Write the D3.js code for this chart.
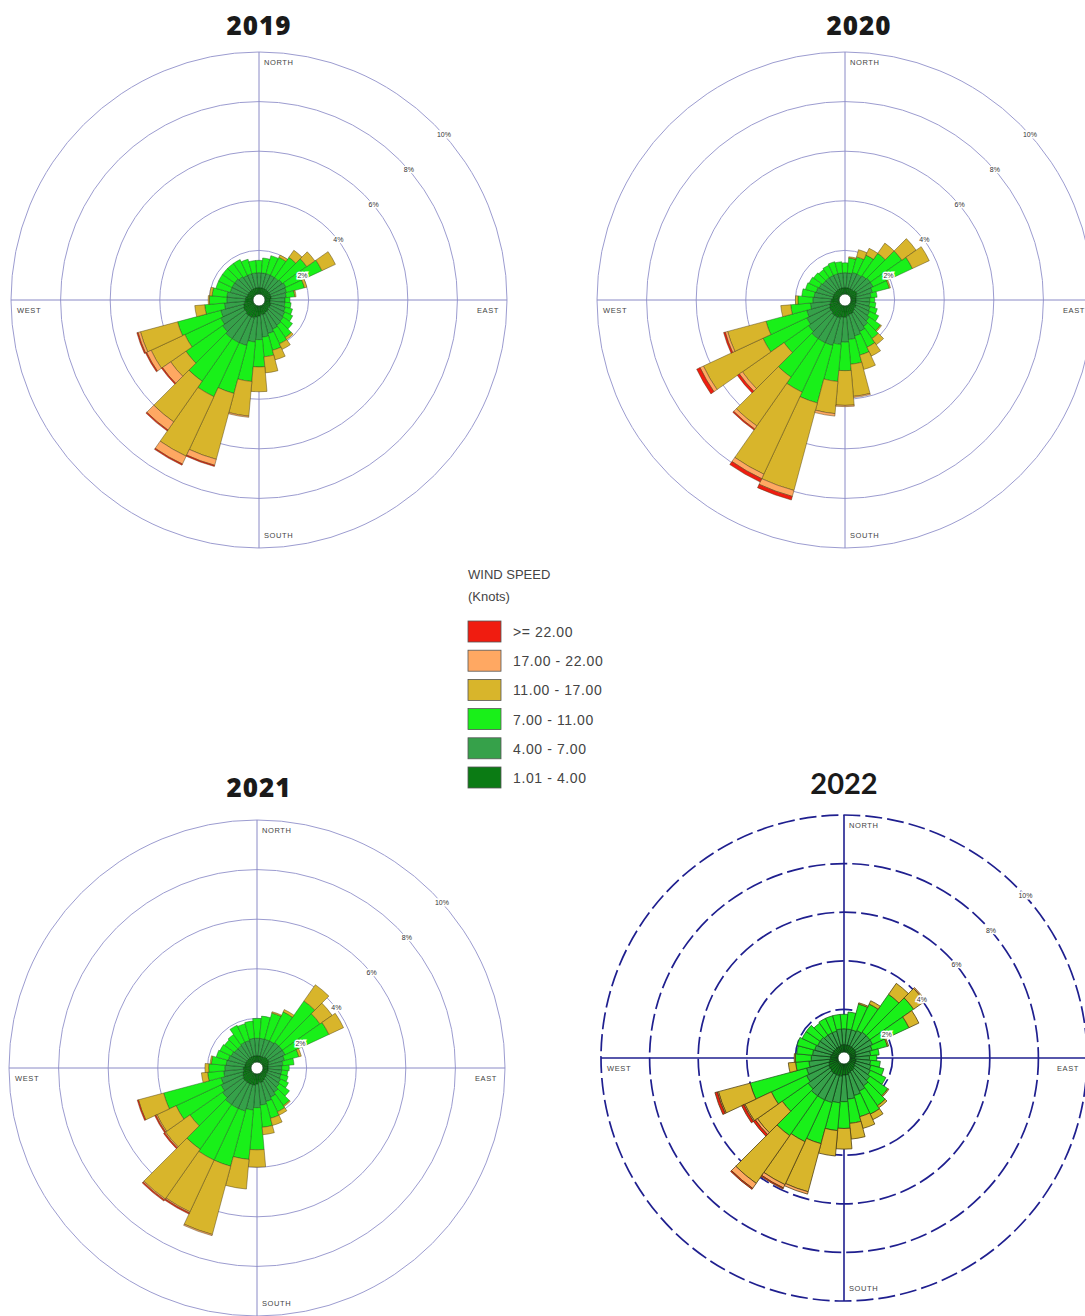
<!DOCTYPE html>
<html>
<head>
<meta charset="utf-8">
<script src="https://cdn.jsdelivr.net/npm/d3@7"></script>
<style>
  body { margin: 0; background: #fff; }
  svg { display: block; }
</style>
</head>
<body>
<svg id="chart" width="1085" height="1316"></svg>
<script>
// Wind direction sectors (degrees from north, clockwise), 10° bins
const directions = [0,10,20,30,40,50,60,70,80,90,100,110,120,130,140,150,160,170,
                    180,190,200,210,220,230,240,250,260,270,280,290,300,310,320,330,340,350];

// Speed classes, innermost first
const speedClasses = ["1.01 - 4.00","4.00 - 7.00","7.00 - 11.00","11.00 - 17.00","17.00 - 22.00",">= 22.00"];
const classColors  = ["#0b7b14","#36a14a","#19f019","#d8b52b","#ffa862","#f01c10"];

const ringTicks  = [2,4,6,8,10];
const ringLabels = ["2%","4%","6%","8%","10%"];
const years = ["2019","2020","2021","2022"];

// Frequency (% of hours) per direction, per speed class
const y2019_c1 = [.5,.5,.5,.5,.5,.5,.5,.5,.5,.45,.45,.5,.5,.5,.55,.55,.6,.6,.65,.7,.75,.75,.75,.7,.7,.65,.6,.55,.55,.5,.5,.5,.5,.5,.5,.5];
const y2019_c2 = [.6,.6,.6,.6,.6,.65,.7,.65,.6,.6,.6,.6,.65,.7,.7,.75,.8,.9,.95,1.0,1.15,1.15,1.15,1.1,1.0,.95,.8,.75,.75,.7,.7,.7,.65,.6,.6,.6];
const y2019_c3 = [.5,.6,.75,.8,1.0,1.2,1.6,.75,.35,.2,.25,.3,.35,.45,.6,.65,.7,.8,1.1,1.6,2.0,2.4,2.1,1.8,1.6,1.8,.8,.7,.6,.6,.6,.6,.65,.7,.6,.5];
const y2019_c4 = [0,0,0,.1,.35,.4,.6,.1,.05,0,0,0,0,0,.1,.25,.4,.65,1.0,1.4,2.75,2.65,2.0,.75,1.5,1.55,.4,.05,.1,0,0,0,0,0,0,0];
const y2019_c5 = [0,0,0,0,0,0,0,0,0,0,0,0,0,0,0,0,0,0,0,.05,.25,.35,.4,.4,.2,.1,0,0,0,0,0,0,0,0,0,0];
const y2019_c6 = [0,0,0,0,0,0,0,0,0,0,0,0,0,0,0,0,0,0,0,0,.05,.05,.05,.05,.05,.05,0,0,0,0,0,0,0,0,0,0];

const y2020_c1 = [.5,.5,.5,.5,.5,.55,.55,.5,.45,.45,.45,.45,.5,.5,.55,.6,.6,.65,.7,.7,.75,.75,.75,.7,.7,.65,.6,.55,.5,.5,.5,.5,.5,.5,.5,.5];
const y2020_c2 = [.6,.6,.65,.65,.7,.7,.7,.65,.6,.55,.55,.6,.6,.7,.75,.8,.9,.95,1.0,1.1,1.15,1.15,1.15,1.1,1.0,.95,.8,.75,.75,.7,.65,.6,.6,.6,.6,.6];
const y2020_c3 = [.4,.6,.65,.85,1.1,1.55,1.75,.7,.25,.2,.25,.3,.4,.55,.6,.7,.8,1.0,1.15,1.5,2.4,2.2,1.9,1.2,1.95,1.7,.8,.6,.5,.45,.45,.45,.4,.45,.5,.45];
const y2020_c4 = [0,.05,.3,.3,.5,.7,.75,.05,0,0,0,0,0,.05,.3,.4,.6,1.3,1.4,1.3,3.65,3.65,2.4,2.05,2.65,1.6,.4,.1,0,0,0,0,0,0,0,0];
const y2020_c5 = [0,0,0,0,0,0,0,0,0,0,0,0,0,0,0,0,0,.05,.05,.1,.25,.2,.15,.15,.15,.1,0,0,0,0,0,0,0,0,0,0];
const y2020_c6 = [0,0,0,0,0,0,0,0,0,0,0,0,0,0,0,0,0,0,0,0,.15,.15,.05,.1,.15,.07,0,0,0,0,0,0,0,0,0,0];

const y2021_c1 = [.5,.5,.5,.5,.55,.55,.55,.5,.45,.45,.45,.45,.45,.5,.5,.55,.6,.6,.65,.7,.7,.7,.7,.7,.65,.6,.55,.55,.5,.5,.5,.5,.5,.5,.5,.5];
const y2021_c2 = [.7,.7,.7,.7,.7,.7,.7,.65,.6,.55,.55,.55,.6,.6,.7,.75,.8,.9,.95,1.0,1.1,1.1,1.1,1.0,.95,.9,.8,.75,.75,.7,.65,.6,.6,.65,.65,.7];
const y2021_c3 = [.8,.9,1.1,1.3,2.05,1.85,1.95,.6,.45,.3,.25,.3,.35,.5,.65,.65,.7,.9,1.7,2.0,2.3,2.3,2.2,1.6,2.0,2.4,.65,.65,.6,.5,.5,.5,.55,.75,.7,.7];
const y2021_c4 = [0,0,.05,.1,.8,.6,.65,.1,0,0,0,0,0,0,.05,.15,.3,.3,.7,1.2,2.85,2.3,2.45,1.2,.85,1.05,.25,.15,.05,0,0,0,0,0,0,0];
const y2021_c5 = [0,0,0,0,0,0,0,0,0,0,0,0,0,0,0,0,0,0,0,0,.05,.05,.05,.05,.05,0,0,0,0,0,0,0,0,0,0,0];
const y2021_c6 = [0,0,0,0,0,0,0,0,0,0,0,0,0,0,0,0,0,0,0,0,0,.05,.05,.05,.05,.05,0,0,0,0,0,0,0,0,0,0];

const y2022_c1 = [.55,.55,.55,.55,.55,.55,.55,.5,.5,.45,.5,.5,.5,.55,.6,.6,.65,.7,.7,.75,.75,.75,.75,.7,.7,.65,.6,.55,.55,.5,.5,.5,.5,.5,.5,.55];
const y2022_c2 = [.65,.65,.65,.7,.75,.75,.75,.7,.6,.6,.6,.65,.7,.75,.8,.9,.95,1.0,1.1,1.1,1.15,1.15,1.15,1.1,1.0,.95,.85,.8,.75,.75,.7,.7,.65,.65,.65,.65];
const y2022_c3 = [.6,.7,1.1,1.2,1.9,2.2,1.65,.65,.35,.3,.4,.55,.7,.9,1.0,1.05,.9,1.0,1.1,1.15,1.75,1.9,2.0,1.3,1.6,2.4,.55,.65,.65,.75,.7,.7,.6,.65,.65,.6];
const y2022_c4 = [0,0,.05,.15,.55,.55,.45,.05,0,0,0,0,0,.05,.1,.25,.5,.65,.85,1.05,2.05,1.95,2.4,1.25,1.2,1.35,.3,.05,0,0,0,0,0,0,0,0];
const y2022_c5 = [0,0,0,0,0,.05,0,0,0,0,0,0,0,0,0,0,0,0,0,0,.1,.15,.25,.1,.05,.05,0,0,0,0,0,0,0,0,0,0];
const y2022_c6 = [0,0,0,0,0,0,0,0,0,0,0,0,0,0,0,0,0,0,0,0,0,.05,.05,.1,.1,.1,0,0,0,0,0,0,0,0,0,0];

const yearSeries = {
  "2019": [y2019_c1, y2019_c2, y2019_c3, y2019_c4, y2019_c5, y2019_c6],
  "2020": [y2020_c1, y2020_c2, y2020_c3, y2020_c4, y2020_c5, y2020_c6],
  "2021": [y2021_c1, y2021_c2, y2021_c3, y2021_c4, y2021_c5, y2021_c6],
  "2022": [y2022_c1, y2022_c2, y2022_c3, y2022_c4, y2022_c5, y2022_c6]
};

// Panel placement and styling
const panels = {
  "2019": { cx: 259, cy: 300,  R: 248, titleX: 259, titleY: 35,  titleFont: "'Open Sans', sans-serif", titleSize: 26, dashed: false },
  "2020": { cx: 845, cy: 300,  R: 248, titleX: 859, titleY: 35,  titleFont: "'Open Sans', sans-serif", titleSize: 26, dashed: false },
  "2021": { cx: 257, cy: 1068, R: 248, titleX: 259, titleY: 797, titleFont: "'Open Sans', sans-serif", titleSize: 26, dashed: false },
  "2022": { cx: 844, cy: 1058, R: 243, titleX: 844, titleY: 794, titleFont: "Lato, sans-serif", titleSize: 29, dashed: true }
};

const svg = d3.select("#chart");
const keys = ["c1","c2","c3","c4","c5","c6"];
const toRad = d3.scaleLinear().domain([0, 360]).range([0, 2 * Math.PI]);
const HALF = 5;      // half sector width, degrees
const HOLE = 6;      // calm circle radius, px

years.forEach(year => {
  const p = panels[year];
  const series = yearSeries[year];
  const r = d3.scaleLinear().domain([0, 10]).range([0, p.R]);
  const g = svg.append("g").attr("transform", `translate(${p.cx},${p.cy})`);

  const gridColor = p.dashed ? "#1f1f8f" : "#9c9cd0";
  const axisColor = p.dashed ? "#1f1f8f" : "#8a8ac6";
  const gridWidth = p.dashed ? 1.7 : 1;

  // rings
  g.append("g").selectAll("circle").data(ringTicks).join("circle")
    .attr("r", d => r(d))
    .attr("fill", "none")
    .attr("stroke", gridColor)
    .attr("stroke-width", gridWidth)
    .attr("stroke-dasharray", p.dashed ? "17 5" : null);

  // compass cross
  g.append("line").attr("x1", -p.R).attr("x2", p.R).attr("y1", 0).attr("y2", 0)
    .attr("stroke", axisColor).attr("stroke-width", p.dashed ? 1.6 : 1);
  g.append("line").attr("y1", -p.R).attr("y2", p.R).attr("x1", 0).attr("x2", 0)
    .attr("stroke", axisColor).attr("stroke-width", p.dashed ? 1.6 : 1);

  // stacked sectors
  const rows = directions.map((dir, i) => {
    const row = { dir };
    keys.forEach((k, j) => row[k] = series[j][i]);
    return row;
  });
  const stacked = d3.stack().keys(keys)(rows);
  const arc = d3.arc()
    .innerRadius(d => Math.max(HOLE, r(d[0])))
    .outerRadius(d => r(d[1]))
    .startAngle(d => toRad(d.data.dir - HALF))
    .endAngle(d => toRad(d.data.dir + HALF));

  const bars = g.append("g");
  stacked.forEach((s, j) => {
    bars.append("g").selectAll("path")
      .data(s.filter(d => d[1] - d[0] > 0))
      .join("path")
      .attr("d", arc)
      .attr("fill", classColors[j])
      .attr("stroke", j < 2 ? "#0c3a12" : (j === 2 ? "#1d5a1d" : "#4a3a10"))
      .attr("stroke-opacity", p.dashed ? 0.95 : 0.75)
      .attr("stroke-width", p.dashed ? 0.8 : 0.6);
  });

  // calm centre
  g.append("circle").attr("r", HOLE).attr("fill", "#fff")
    .attr("stroke", "#174d20").attr("stroke-width", 0.8);

  // ring percentage labels
  g.append("g").selectAll("text").data(ringTicks).join("text")
    .each(function(d, i) {
      const rr = r(d);
      const a = Math.PI / 4 + 14 / rr;
      d3.select(this)
        .attr("x", rr * Math.sin(a))
        .attr("y", -rr * Math.cos(a))
        .text(ringLabels[i]);
    })
    .attr("text-anchor", "middle")
    .attr("dominant-baseline", "middle")
    .attr("font-family", "'Liberation Sans', Arial, sans-serif")
    .attr("font-size", 7)
    .attr("fill", "#333")
    .attr("stroke", "#fff")
    .attr("stroke-width", 3)
    .attr("paint-order", "stroke");

  // compass labels
  const lab = (txt, x, y, anchor) => g.append("text")
    .attr("x", x).attr("y", y).attr("text-anchor", anchor)
    .attr("font-family", "'Liberation Sans', Arial, sans-serif")
    .attr("font-size", 7.5).attr("letter-spacing", 0.6)
    .attr("fill", "#444").text(txt);
  lab("NORTH", 5, -p.R + 13, "start");
  lab("SOUTH", 5, p.R - 10, "start");
  lab("WEST", -p.R + 6, 13, "start");
  lab("EAST", p.R - 8, 13, "end");

  // title
  svg.append("text")
    .attr("x", p.titleX).attr("y", p.titleY)
    .attr("text-anchor", "middle")
    .attr("font-family", p.titleFont)
    .attr("font-weight", p.dashed ? 700 : 800)
    .attr("font-size", p.titleSize)
    .attr("letter-spacing", p.dashed ? 0 : 1)
    .attr("fill", "#1a1a1a")
    .text(year);
});

// legend
const legend = svg.append("g").attr("font-family", "'Liberation Sans', Arial, sans-serif").attr("fill", "#444");
legend.append("text").attr("x", 468).attr("y", 579).attr("font-size", 13).text("WIND SPEED");
legend.append("text").attr("x", 468).attr("y", 601).attr("font-size", 13).text("(Knots)");
const legendOrder = speedClasses.map((s, i) => ({ label: s, color: classColors[i] })).reverse();
const lrow = legend.selectAll("g.row").data(legendOrder).join("g")
  .attr("class", "row")
  .attr("transform", (d, i) => `translate(468,${621 + i * 29.2})`);
lrow.append("rect").attr("width", 33).attr("height", 21)
  .attr("fill", d => d.color).attr("stroke", "#555").attr("stroke-width", 0.8);
lrow.append("text").attr("x", 45).attr("y", 16).attr("font-size", 14)
  .attr("letter-spacing", 0.6).text(d => d.label);
</script>
</body>
</html>
